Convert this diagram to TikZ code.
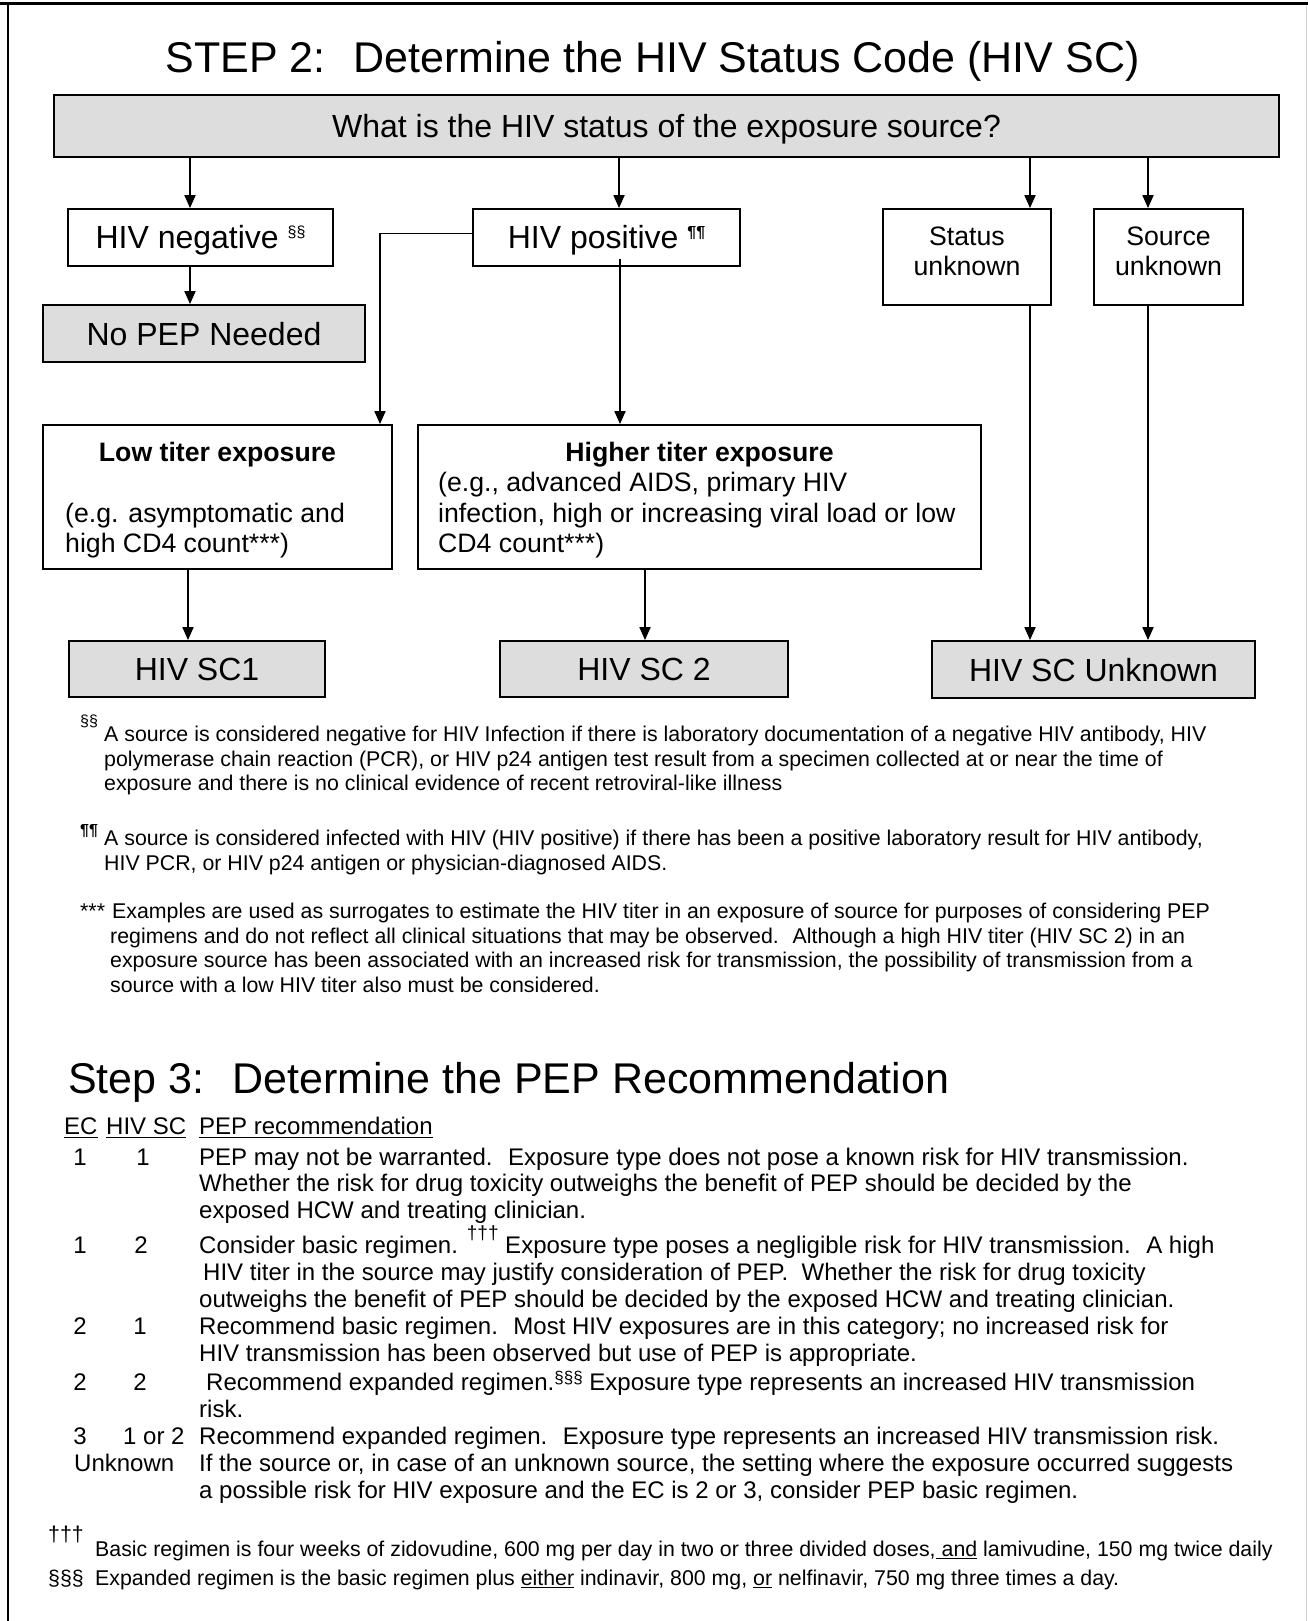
\documentclass[tikz,border=0pt]{standalone}
\usepackage{fontspec}
\setmainfont{Liberation Sans}
\usetikzlibrary{arrows.meta}
\definecolor{boxgray}{RGB}{221,221,221}
\newcommand\fs[1]{\fontsize{#1}{#1}\selectfont}
\newcommand\ulx[1]{\setbox0\hbox{#1}\rlap{\rule[-3pt]{\wd0}{1.5pt}}\box0\relax}
\begin{document}
\begin{tikzpicture}[x=1pt,y=-1pt,
  box/.style={draw=black, line width=1.8pt, inner sep=0pt},
  gbox/.style={box, fill=boxgray},
  big/.style={font=\fs{32}, text height=23pt, text depth=0pt},
  arr/.style={line width=1.8pt, -{Triangle[length=13pt,width=11pt]}},
  T/.style={inner sep=0pt, anchor=base west, font=\fs{24}},
  Tc/.style={inner sep=0pt, anchor=base, font=\fs{24}},
  B/.style={inner sep=0pt, anchor=base west, font=\fs{26.67}},
  Bc/.style={inner sep=0pt, anchor=base, font=\fs{26.67}},
  F/.style={inner sep=0pt, anchor=base west, font=\fs{21.33}},
  sup/.style={inner sep=0pt, anchor=base west, font=\fs{16}},
  ul/.style={line width=1.5pt},
  ttl/.style={inner sep=0pt, font=\fs{43}}
]
\useasboundingbox (0,0) rectangle (1308,1621);
% frame
\draw[line width=3pt] (0,4) -- (1308,4);
\draw[line width=2.5pt] (8,4) -- (8,1621);
\draw[line width=1pt, black!18] (1306.5,6) -- (1306.5,1621);

% ---------- STEP 2 ----------
\node[ttl, anchor=base] (title2) at (652.5,73) {STEP 2:~ Determine the HIV Status Code (HIV SC)};

\node[gbox, big, minimum width=1225pt, minimum height=62pt] (q) at (666.5,126) {What is the HIV status of the exposure source?};

\node[box, big, minimum width=265pt, minimum height=57pt] (neg) at (200.5,237.5) {HIV negative \raisebox{11pt}{\fs{16}§§}};
\node[box, big, minimum width=267pt, minimum height=57pt] (pos) at (606.5,237.5) {HIV positive \raisebox{11pt}{\fs{16}\bfseries ¶¶}};
\node[box, minimum width=168pt, minimum height=96pt] (stat) at (967,257) {};
\node[box, minimum width=149pt, minimum height=96pt] (src) at (1168.5,257) {};
\node[Bc] (stat1) at (967,246) {Status};
\node[Bc] (stat2) at (967,275) {unknown};
\node[Bc] (src1) at (1168.5,246) {Source};
\node[Bc] (src2) at (1168.5,275) {unknown};

\node[gbox, big, minimum width=322pt, minimum height=57pt] (nopep) at (204,333.5) {No PEP Needed};

\node[box, minimum width=349pt, minimum height=144pt] (low) at (217.5,497) {};
\node[Bc, font=\fs{26.67}\bfseries] (lowA) at (217.5,461) {Low titer exposure};
\node[B] (lowB) at (65,522) {(e.g. asymptomatic and};
\node[B] (lowC) at (65,552) {high CD4 count***)};

\node[box, minimum width=563pt, minimum height=144pt] (high) at (699.5,497) {};
\node[Bc, font=\fs{26.67}\bfseries] (highA) at (699.5,461) {Higher titer exposure};
\node[B] (highB) at (438,491) {(e.g., advanced AIDS, primary HIV};
\node[B] (highC) at (438,522) {infection, high or increasing viral load or low};
\node[B] (highD) at (438,552) {CD4 count***)};

\node[gbox, big, minimum width=256pt, minimum height=56pt] (sc1) at (197,669) {HIV SC1};
\node[gbox, big, minimum width=288pt, minimum height=56pt] (sc2) at (644,669) {HIV SC 2};
\node[gbox, big, minimum width=323pt, minimum height=57pt] (scu) at (1093.5,669.5) {HIV SC Unknown};

% connector x positions
\coordinate (cA) at (190,0);
\coordinate (cB) at (619,0);
\coordinate (cC) at (1030,0);
\coordinate (cD) at (1148,0);
\coordinate (cE) at (380,0);
\coordinate (cF) at (620,0);
\coordinate (cG) at (645,0);
\coordinate (cH) at (188,0);
\coordinate (pbot) at ([yshift=8pt]pos.south);
\coordinate (pwest) at ([yshift=4pt]pos.west);

\draw[arr] (q.south -| cA) -- (neg.north -| cA);
\draw[arr] (q.south -| cB) -- (pos.north -| cB);
\draw[arr] (q.south -| cC) -- (stat.north -| cC);
\draw[arr] (q.south -| cD) -- (src.north -| cD);
\draw[arr] (neg.south -| cA) -- (nopep.north -| cA);
\draw[arr] (pwest) -| (low.north -| cE);
\draw[arr] (pbot -| cF) -- (high.north -| cF);
\draw[arr] (low.south -| cH) -- (sc1.north -| cH);
\draw[arr] (high.south -| cG) -- (sc2.north -| cG);
\draw[arr] (stat.south -| cC) -- (scu.north -| cC);
\draw[arr] (src.south -| cD) -- (scu.north -| cD);

% footnotes step 2
\node[sup] (fn1s) at (80,726) {§§};
\node[F] (fn1a) at (104,741) {A source is considered negative for HIV Infection if there is laboratory documentation of a negative HIV antibody, HIV};
\node[F] (fn1b) at (104,766) {polymerase chain reaction (PCR), or HIV p24 antigen test result from a specimen collected at or near the time of};
\node[F] (fn1c) at (104,790) {exposure and there is no clinical evidence of recent retroviral-like illness};

\node[sup, font=\fs{16}\bfseries] (fn2s) at (80,835) {¶¶};
\node[F] (fn2a) at (104,845) {A source is considered infected with HIV (HIV positive) if there has been a positive laboratory result for HIV antibody,};
\node[F] (fn2b) at (104,870) {HIV PCR, or HIV p24 antigen or physician-diagnosed AIDS.};

\node[F] (fn3s) at (80,918) {***};
\node[F] (fn3a) at (112,918) {Examples are used as surrogates to estimate the HIV titer in an exposure of source for purposes of considering PEP};
\node[F] (fn3b) at (110,943) {regimens and do not reflect all clinical situations that may be observed.~ Although a high HIV titer (HIV SC 2) in an};
\node[F] (fn3c) at (110,967.5) {exposure source has been associated with an increased risk for transmission, the possibility of transmission from a};
\node[F] (fn3d) at (110,992) {source with a low HIV titer also must be considered.};

% ---------- STEP 3 ----------
\node[ttl, anchor=base west] (title3) at (68,1093) {Step 3:~ Determine the PEP Recommendation};

\node[T] (hEC) at (64,1134) {EC};
\node[T] (hSC) at (106,1134) {HIV SC};
\node[T] (hPEP) at (199,1134) {PEP recommendation};
\draw[ul] ([yshift=-3.5pt]hEC.base west) -- ([yshift=-3.5pt]hEC.base east);
\draw[ul] ([yshift=-3.5pt]hSC.base west) -- ([yshift=-3.5pt]hSC.base east);
\draw[ul] ([yshift=-3.5pt]hPEP.base west) -- ([yshift=-3.5pt]hPEP.base east);

\node[Tc] (r1e) at (80,1165) {1};
\node[Tc] (r1s) at (143,1165) {1};
\node[T] (r1a) at (199,1165) {PEP may not be warranted.~ Exposure type does not pose a known risk for HIV transmission.};
\node[T] (r1b) at (199,1191.5) {Whether the risk for drug toxicity outweighs the benefit of PEP should be decided by the};
\node[T] (r1c) at (199,1218) {exposed HCW and treating clinician.};

\node[Tc] (r2e) at (80,1253) {1};
\node[Tc] (r2s) at (141,1253) {2};
\node[T] (r2a) at (199,1253) {Consider basic regimen. \raisebox{14pt}{\fs{19}†††} Exposure type poses a negligible risk for HIV transmission.~ A high};
\node[T] (r2b) at (203,1280) {HIV titer in the source may justify consideration of PEP.~ Whether the risk for drug toxicity};
\node[T] (r2c) at (199,1307) {outweighs the benefit of PEP should be decided by the exposed HCW and treating clinician.};

\node[Tc] (r3e) at (80,1334) {2};
\node[Tc] (r3s) at (140,1334) {1};
\node[T] (r3a) at (199,1334) {Recommend basic regimen.~ Most HIV exposures are in this category; no increased risk for};
\node[T] (r3b) at (199,1361) {HIV transmission has been observed but use of PEP is appropriate.};

\node[Tc] (r4e) at (80,1390) {2};
\node[Tc] (r4s) at (140,1390) {2};
\node[T] (r4a) at (206,1390) {Recommend expanded regimen.\raisebox{7pt}{\fs{17}§§§} Exposure type represents an increased HIV transmission};
\node[T] (r4b) at (199,1417) {risk.};

\node[Tc] (r5e) at (80,1444) {3};
\node[T] (r5s) at (123,1444) {1 or 2};
\node[T] (r5a) at (199,1444) {Recommend expanded regimen.~ Exposure type represents an increased HIV transmission risk.};

\node[T] (r6e) at (74,1471) {Unknown};
\node[T] (r6a) at (199,1471) {If the source or, in case of an unknown source, the setting where the exposure occurred suggests};
\node[T] (r6b) at (199,1498) {a possible risk for HIV exposure and the EC is 2 or 3, consider PEP basic regimen.};

% bottom footnotes
\node[F] (fdag) at (48,1541) {†††};
\node[F] (fbasic) at (95,1556) {Basic regimen is four weeks of zidovudine, 600 mg per day in two or three divided doses,\ulx{ and} lamivudine, 150 mg twice daily};
\node[F] (fsss) at (48,1585) {§§§};
\node[F] (fexp) at (95,1585) {Expanded regimen is the basic regimen plus \ulx{either} indinavir, 800 mg, \ulx{or} nelfinavir, 750 mg three times a day.};
\end{tikzpicture}
\end{document}
